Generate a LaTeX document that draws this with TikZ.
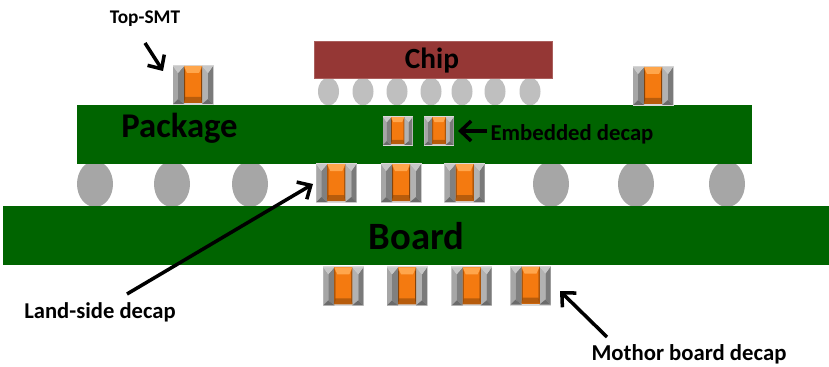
\documentclass[tikz,border=0pt]{standalone}
\usepackage{fontspec}
\setmainfont{Carlito}
\usetikzlibrary{arrows.meta,shapes.geometric,positioning,calc}
\definecolor{pcbgreen}{HTML}{006400}
\definecolor{chipred}{HTML}{953735}
\definecolor{ballgray}{HTML}{A6A6A6}
\definecolor{bumpgray}{HTML}{BFBFBF}
\definecolor{decaporange}{HTML}{F47A10}
\tikzset{
  % Define standard arrow tip
  >={Straight Barb[length=9pt,width=17pt]},
  % Define style for the boards
  layer/.style={
    rectangle,
    fill=pcbgreen,
    inner sep=0pt,
    minimum width=#1},
  % Define style for solder balls
  ball/.style={
    ellipse,
    fill=ballgray,
    inner sep=0pt,
    minimum width=36*.03cm,
    minimum height=46*.03cm},
  bump/.style={
    ellipse,
    fill=bumpgray,
    inner sep=0pt,
    minimum width=21*.03cm,
    minimum height=28*.03cm},
  % Define arrow style
  arrow/.style={
    ->,
    line width=3pt},
  % labels
  label/.style={font=\fontsize{#1}{#1}\selectfont\bfseries, inner sep=0pt},
}
\def\decap#1#2{ % #1 Center, #2 Scale
\begin{scope}[shift={(#1)},scale=#2]
  \fill[white!85!black] (-20.5,-20) rectangle (20.5,20);
  % terminals
  \fill[black!35] (-20,-19) -- (-15,-12) -- (-15,14) -- (-20,19) -- cycle;
  \fill[black!50] (-15,-12) -- (-9,-19) -- (-9,19) -- (-15,14) -- cycle;
  \fill[black!22] (-20,-19) -- (-9,-19) -- (-15,-12) -- cycle;
  \fill[black!58] (-20,19) -- (-9,19) -- (-15,14) -- cycle;
  \fill[black!30] (9,-19) -- (15,-12) -- (15,14) -- (9,19) -- cycle;
  \fill[black!52] (15,-12) -- (20,-19) -- (20,19) -- (15,14) -- cycle;
  \fill[black!22] (9,-19) -- (20,-19) -- (15,-12) -- cycle;
  \fill[black!58] (9,19) -- (20,19) -- (15,14) -- cycle;
  % body
  \fill[decaporange] (-9,-19) rectangle (9,18);
  \fill[orange!70!white] (-9,-19) -- (9,-19) -- (6,-12) -- (-6,-12) -- cycle;
  \fill[decaporange!75!black] (-9,18) -- (9,18) -- (8,12) -- (-8,12) -- cycle;
  \fill[decaporange!55!black] (-9,-19) -- (-8,-14) -- (-8,14) -- (-9,18) -- cycle;
  \fill[decaporange!55!black] (9,-19) -- (8,-14) -- (8,14) -- (9,18) -- cycle;
\end{scope}
}

\begin{document}
\begin{tikzpicture}[x=.03cm,y=-.03cm]
  \useasboundingbox (0,0) rectangle (829,367);
  % solder balls
  \foreach \x in {95,172,250,551,636,727}
    \node[ball] (ball\x) at (\x,184) {};
  \foreach \x in {328.5,363,397,431,462,495,530}
    \node[bump] (bump\x) at (\x,91.5) {};
  % layers
  \node[layer=20.25cm, minimum height=59*.03cm] (package) at (414.5,134.5) {};
  \node[layer=24.78cm, minimum height=59*.03cm] (board) at (416,235.5) {};
  \node[rectangle, fill=chipred, draw=chipred!80!white, inner sep=0pt, minimum width=238*.03cm, minimum height=37*.03cm] (chip) at (433,59.5) {};
  % decaps
  \decap{193,85}{1};
  \decap{653,86}{1};
  \decap{397.7,131}{.73};
  \decap{439,131}{.73};
  \decap{336.3,183}{1};
  \decap{401,183}{1};
  \decap{464.5,183}{1};
  \decap{343.3,286.3}{1};
  \decap{407,286.3}{1};
  \decap{471.7,286.3}{1};
  \decap{530.5,285.5}{1};
  % labels
  \node[label=25] (chiptext) at (432,61) {Chip};
  \node[label=29.6] (packagetext) at (179.5,128) {Package};
  \node[label=33] (boardtext) at (416.5,236) {Board};
  \node[label=16.5] (topsmt) at (145,19) {Top-SMT};
  \node[label=19.4] (embedded) at (572,134) {Embedded decap};
  \node[label=19.3] (landside) at (100,312) {Land-side decap};
  \node[label=19.4] (mothor) at (689,354) {Mothor board decap};
  % arrows
  \coordinate (topsmttip) at (163,71);
  \coordinate (topsmtend) at (145,43);
  \coordinate (embeddedtip) at (458,131);
  \coordinate (landtip) at (313,184);
  \coordinate (landend) at (127,294);
  \coordinate (mothortip) at (560,291);
  \coordinate (mothorend) at (607,337);
  \draw[arrow] (topsmtend) -- (topsmttip);
  \draw[arrow] (embedded.west) ++(-3,-3) -- (embeddedtip);
  \draw[arrow] (landend) -- (landtip);
  \draw[arrow] (mothorend) -- (mothortip);
\end{tikzpicture}
\end{document}
